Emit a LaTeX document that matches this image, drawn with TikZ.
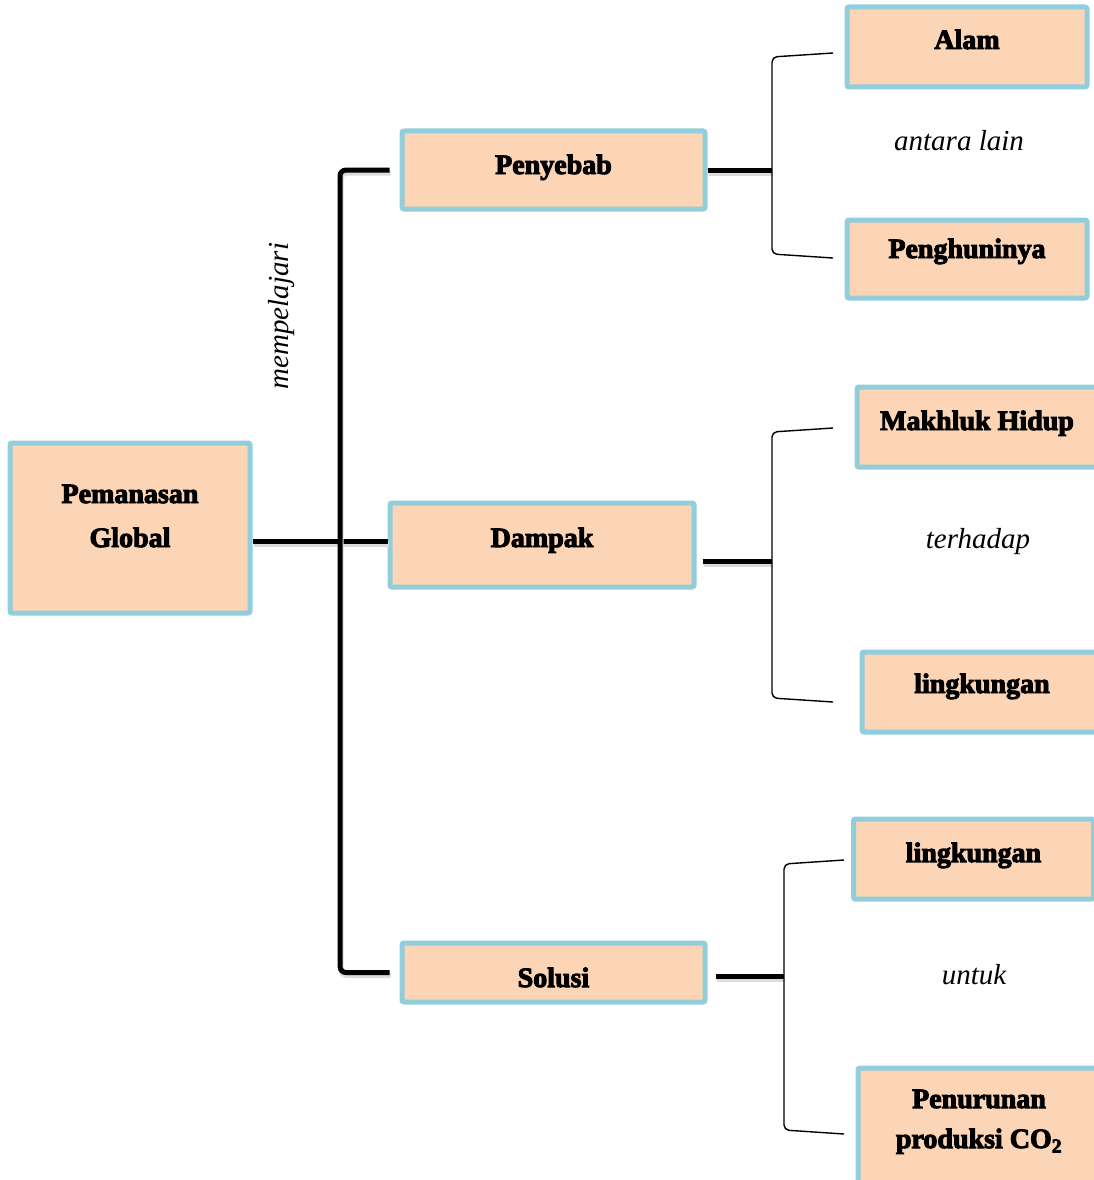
\documentclass[tikz,border=0pt]{standalone}
\usepackage{fontspec}
\setmainfont{Liberation Serif}[BoldFeatures={FakeBold=3.5}]
\usetikzlibrary{positioning}
\definecolor{isikotak}{RGB}{251,213,181}
\definecolor{tepikotak}{RGB}{146,205,220}
\tikzset{
  kotak/.style={draw=tepikotak, fill=isikotak, line width=5pt, rounded corners=2pt,
    minimum width=240pt, minimum height=78pt, inner sep=0pt},
  judul/.style={font=\fontsize{28}{42}\selectfont\bfseries, anchor=base, align=center, inner sep=0pt},
  ket/.style={font=\fontsize{29}{34}\selectfont\itshape, anchor=base, inner sep=0pt},
  tebal/.style={line width=5pt, preaction={draw=black!14, line width=5pt,
    transform canvas={shift={(1pt,-3pt)}}}},
  tipis/.style={line width=1.4pt, rounded corners=5pt},
}
\begin{document}
\begin{tikzpicture}[x=1pt,y=-1pt]
\useasboundingbox (0,0) rectangle (1094,1180);
\clip (0,0) rectangle (1094,1180);
% kotak-kotak (posisi dalam piksel gambar, y ke bawah)
\node[kotak, minimum height=170pt] (utama) at (130,528) {};
\node[kotak, minimum width=303pt] (penyebab) at (553.5,170) {};
\node[kotak, minimum width=304pt, minimum height=84pt] (dampak) at (542,545) {};
\node[kotak, minimum width=303pt, minimum height=59pt] (solusi) at (553.5,972.5) {};
\node[kotak, minimum height=80pt] (alam) at (967,47) {};
\node[kotak] (penghuni) at (967,259) {};
\node[kotak, minimum height=80pt] (makhluk) at (977,427) {};
\node[kotak, minimum height=80pt] (lingkA) at (982,692) {};
\node[kotak, minimum height=80pt] (lingkB) at (973.5,859) {};
\node[kotak, minimum height=124pt] (penurunan) at (978,1130) {};
% tulisan di dalam kotak (pada garis dasar baris terakhir)
\node[judul, font=\fontsize{28}{44}\selectfont\bfseries] (tUtama) at (130,547) {Pemanasan\\Global};
\node[judul] (tPenyebab) at (553.5,174) {Penyebab};
\node[judul] (tDampak) at (542,547) {Dampak};
\node[judul] (tSolusi) at (553.5,987) {Solusi};
\node[judul] (tAlam) at (967,49) {Alam};
\node[judul] (tPenghuni) at (967,258) {Penghuninya};
\node[judul] (tMakhluk) at (977,430) {Makhluk Hidup};
\node[judul] (tLingkA) at (982,693) {lingkungan};
\node[judul] (tLingkB) at (973.5,862) {lingkungan};
\node[judul, font=\fontsize{28}{40}\selectfont\bfseries] (tPenurunan) at (979,1148) {Penurunan\\produksi CO\textsubscript{2}};
% keterangan miring
\node[ket, rotate=90, anchor=center] (mempelajari) at (282,316) {mempelajari};
\node[ket] (antara) at (959,150) {antara lain};
\node[ket] (terhadap) at (978,548) {terhadap};
\node[ket] (untuk) at (974,984) {untuk};
% kurung besar
\coordinate (cabang) at (340,541);
\draw[tebal] (utama.east |- cabang) -- (dampak.west |- cabang);
\draw[tebal, rounded corners=6pt] ([xshift=-10pt]penyebab.west) -| (cabang) |- ([xshift=-10pt]solusi.west);
% kurung kecil: sumber/garis tegak/atas/bawah/ujung/celah/geser
\foreach \src/\vx/\atas/\bawah/\ujung/\gap/\dy in {penyebab/772/55/256/833/0/0,
    dampak/772/430/700/833/6/-16, solusi/784/862/1132/844/8/-4}{
  \coordinate (mulai) at ([xshift=\gap pt, yshift=\dy pt]\src.east);
  \draw[tebal] (mulai) -- (\vx,0 |- mulai);
  \draw[tipis] (\ujung,\atas-2) -- (\vx,\atas+2) -- (\vx,\bawah-2) -- (\ujung,\bawah+2);
}
\end{tikzpicture}
\end{document}
